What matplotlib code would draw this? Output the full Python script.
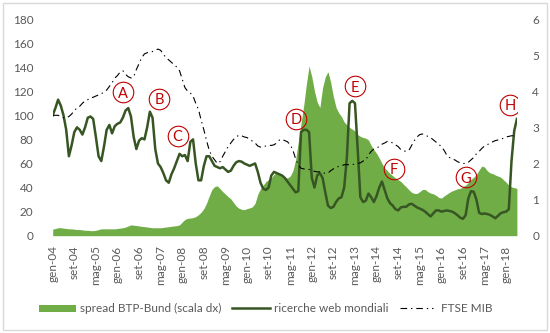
import matplotlib
matplotlib.use("Agg")
import matplotlib.pyplot as plt
from matplotlib.lines import Line2D
from matplotlib.patches import Rectangle

plt.rcParams['font.family'] = ['Lato', 'DejaVu Sans']

# Monthly series, gen-2004 .. mag-2018
spread = [
    0.18, 0.20, 0.22, 0.22, 0.21, 0.20, 0.19, 0.19,
    0.18, 0.17, 0.17, 0.16, 0.15, 0.15, 0.14, 0.14,
    0.15, 0.17, 0.19, 0.19, 0.19, 0.19, 0.19, 0.19,
    0.20, 0.21, 0.22, 0.24, 0.27, 0.30, 0.29, 0.28,
    0.27, 0.26, 0.25, 0.24, 0.23, 0.22, 0.22, 0.22,
    0.22, 0.23, 0.24, 0.25, 0.26, 0.27, 0.28, 0.30,
    0.38, 0.45, 0.48, 0.49, 0.50, 0.53, 0.58, 0.65,
    0.75, 0.90, 1.10, 1.28, 1.36, 1.38, 1.30, 1.22,
    1.15, 1.08, 1.02, 0.92, 0.82, 0.76, 0.73, 0.72,
    0.75, 0.77, 0.80, 0.90, 1.15, 1.30, 1.40, 1.50,
    1.55, 1.60, 1.70, 1.75, 1.72, 1.65, 1.60, 1.60,
    1.65, 1.80, 2.10, 2.60, 3.10, 3.60, 4.20, 4.70,
    4.40, 4.00, 3.70, 3.55, 4.10, 4.40, 4.54, 4.25,
    3.85, 3.55, 3.40, 3.30, 3.15, 3.07, 3.00, 2.95,
    2.90, 2.80, 2.75, 2.72, 2.70, 2.65, 2.50, 2.38,
    2.28, 2.15, 2.00, 1.88, 1.80, 1.72, 1.66, 1.60,
    1.55, 1.50, 1.42, 1.35, 1.27, 1.20, 1.17, 1.17,
    1.22, 1.28, 1.28, 1.22, 1.18, 1.16, 1.12, 1.06,
    1.04, 1.10, 1.15, 1.20, 1.24, 1.27, 1.30, 1.31,
    1.36, 1.40, 1.47, 1.56, 1.62, 1.70, 1.82, 1.93,
    1.90, 1.80, 1.74, 1.72, 1.68, 1.65, 1.62, 1.55,
    1.48, 1.40, 1.35, 1.33, 1.31,
]

ricerche = [
    100, 106, 113, 108, 100, 88, 66, 75,
    86, 90, 88, 84, 90, 98, 99, 97,
    82, 66, 62, 74, 88, 92, 85, 91,
    93, 94, 98, 104, 106, 99, 82, 72,
    79, 81, 80, 90, 103, 98, 72, 60,
    57, 52, 46, 44, 51, 56, 62, 68,
    66, 67, 62, 78, 80, 60, 46, 46,
    58, 66, 66, 62, 58, 57, 56, 57,
    55, 53, 54, 58, 61, 62, 61.5, 60,
    59, 58, 59, 60, 53, 44, 39, 38,
    40, 50, 53, 52, 51, 50, 48, 45,
    42, 39, 36, 37, 86, 88, 88, 86,
    48, 40, 50, 52, 48, 36, 25, 23,
    24, 28, 31, 32, 40, 65, 110, 112,
    110, 72, 32, 28, 29, 35, 32, 28,
    33, 40, 45, 38, 31, 27, 25, 22,
    21, 23.5, 24, 24, 26, 26.5, 25, 23.5,
    22.5, 21.5, 20, 18, 16, 18.5, 21, 21,
    20, 20.5, 21, 20.5, 20, 18.7, 17, 15,
    14, 17, 31, 37, 36.5, 30, 19, 18,
    18.5, 18, 17.3, 16, 14.5, 16.5, 18.7, 19.5,
    20, 22, 62, 87, 97,
]

ftse_mib = [
    100, 100, 100, 99, 98, 98, 99, 101,
    104, 106, 107.5, 110, 112, 113, 114.5, 115,
    116, 117, 118, 119, 121, 124, 127, 131,
    133, 136, 137, 134, 132, 131, 132, 138,
    143, 148, 151, 152, 152.5, 153, 154, 155,
    154, 150.6, 148, 146, 144, 142, 140, 137,
    130, 123, 120, 118.5, 116, 110, 105, 96,
    88, 79, 71, 66, 63, 60, 61.5, 66,
    70, 74, 77, 80, 82, 83.5, 83, 82,
    81.5, 80, 78.5, 77, 74.5, 73.6, 74, 74.5,
    75, 75, 75.5, 77, 79.5, 80, 79, 78,
    75.5, 71, 64, 59, 56, 55.5, 55, 55,
    54, 53.5, 53, 53, 52, 52, 52, 54,
    55.5, 57, 57.5, 58, 59, 59, 59, 59,
    59.5, 60, 60.5, 62, 63, 67, 70, 72,
    73, 74, 76, 77, 78.3, 78, 77, 75.5,
    74, 71.5, 70.5, 70, 71, 75, 79, 82,
    84, 84.5, 83.5, 82.5, 81.5, 79.7, 78, 76,
    74, 71, 67, 65, 63.5, 63, 61.5, 60.5,
    60, 60, 61, 63, 65, 68, 70, 72.5,
    74.5, 75.5, 77, 78, 79, 79.5, 80, 81,
    82, 82.5, 83, 83, 82,
]

tick_labels = ["gen-04", "set-04", "mag-05", "gen-06", "set-06", "mag-07",
               "gen-08", "set-08", "mag-09", "gen-10", "set-10", "mag-11",
               "gen-12", "set-12", "mag-13", "gen-14", "set-14", "mag-15",
               "gen-16", "set-16", "mag-17", "gen-18"]

# Event markers (month index, left-axis value)
events = ["A", "B", "C", "D", "E", "F", "G", "H"]
event_pos = [(25.9, 119.2), (39.4, 113.9), (46.3, 83.1), (90.1, 97.0),
             (112.0, 124.2), (126.4, 55.6), (153.1, 48.5), (169.5, 108.7)]

GREEN = "#70AD47"
DARK = "#375623"
RED = "#C00000"
GREY = "#595959"

W, H = 550, 333
fig = plt.figure(figsize=(W / 100, H / 100), dpi=100)

x0, x1 = 52.7, 516.9
y_top, y_bot = 19.0, 235.7
ax = fig.add_axes([x0 / W, 1 - y_bot / H, (x1 - x0) / W, (y_bot - y_top) / H])
ax2 = ax.twinx()

n = len(spread)
months = list(range(n))

ax2.fill_between(months, spread, 0, color=GREEN, linewidth=0, zorder=1)
ax2.set_ylim(0, 6)
ax2.set_yticks(range(0, 7))

ax.set_zorder(ax2.get_zorder() + 1)
ax.patch.set_visible(False)
ax.plot(months, ricerche, color=DARK, lw=1.8, solid_joinstyle="round", zorder=3)
ax.plot(months, ftse_mib, color="black", lw=0.8, linestyle=(0, (6, 3.5, 1.2, 3.5)), zorder=4)
ax.set_ylim(0, 180)
ax.set_yticks(range(0, 181, 20))
ax.set_xlim(0, n - 1)
ax.set_xticks(range(0, 8 * len(tick_labels), 8))
ax.set_xticklabels(tick_labels, rotation=90)

for a in (ax, ax2):
    for s in a.spines.values():
        s.set_visible(False)
ax.tick_params(axis="y", length=0, pad=14, labelsize=8.5, labelcolor=GREY)
ax.tick_params(axis="x", length=0, pad=7, labelsize=8.5, labelcolor=GREY)
ax2.tick_params(axis="y", length=0, pad=11, labelsize=8.5, labelcolor=GREY)

for lab, (mx, my) in zip(events, event_pos):
    ax.plot([mx], [my], marker="o", ms=14.8, mfc="none", mec=RED, mew=0.8, zorder=6)
    ax.text(mx, my, lab, color=RED, fontsize=10.5, ha="center", va="center_baseline", zorder=7)

# Legend row
def fy(y):
    return 1 - y / H

ly = 308
fig.add_artist(Rectangle((39.3 / W, fy(311.5)), (76 - 39.3) / W, 6.5 / H,
                         facecolor=GREEN, edgecolor="none", transform=fig.transFigure))
fig.text(80 / W, fy(ly), "spread BTP-Bund (scala dx)", fontsize=8.5, color=GREY, va="center", ha="left")
fig.add_artist(Line2D([232 / W, 270 / W], [fy(ly), fy(ly)], color=DARK, lw=1.8, transform=fig.transFigure))
fig.text(274 / W, fy(ly), "ricerche web mondiali", fontsize=8.5, color=GREY, va="center", ha="left")
fig.add_artist(Line2D([400 / W, 433 / W], [fy(ly), fy(ly)], color="black", lw=0.8,
                      linestyle=(0, (6, 3.5, 1.2, 3.5)), transform=fig.transFigure))
fig.text(441 / W, fy(ly), "FTSE MIB", fontsize=8.5, color=GREY, va="center", ha="left")

# Chart frame
fig.add_artist(Rectangle((3 / W, fy(330)), 544 / W, 327 / H, facecolor="none",
                         edgecolor="#D9D9D9", lw=1, transform=fig.transFigure))

fig.savefig("out.png", dpi=100)
